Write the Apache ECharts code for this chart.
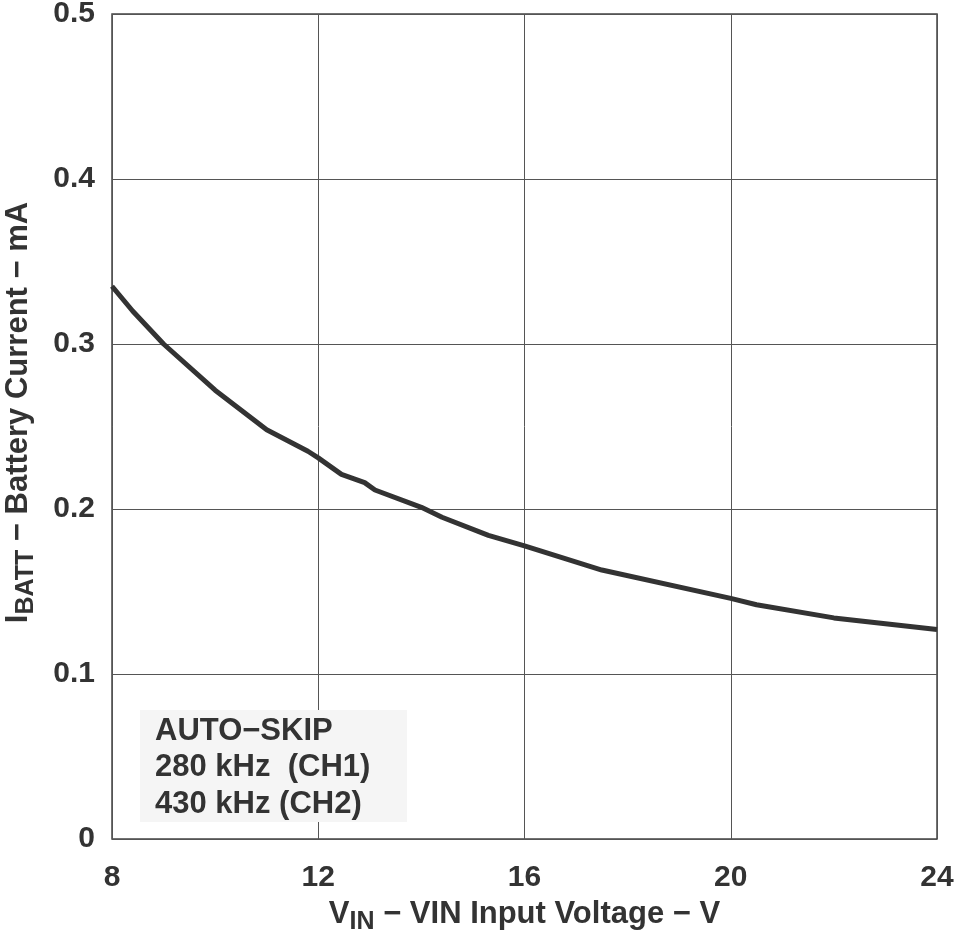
<!DOCTYPE html>
<html>
<head>
<meta charset="utf-8">
<script src="https://cdn.jsdelivr.net/npm/echarts@6/dist/echarts.min.js"></script>
<style>
  html, body { margin: 0; padding: 0; background: #fff; }
  #chart { width: 956px; height: 934px; }
</style>
</head>
<body>
<div id="chart"></div>
<script>
// input voltage (V)
var vin = [8, 8.4, 9, 10, 11, 11.8, 12, 12.45, 12.9, 13.1, 14, 14.4, 15.3, 16, 17.5, 20, 20.5, 22, 24];
// battery current (mA)
var ibatt = [0.335, 0.32, 0.3, 0.272, 0.248, 0.235, 0.231, 0.221, 0.216, 0.2115, 0.201, 0.195, 0.184, 0.1776, 0.163, 0.1458, 0.142, 0.134, 0.127];

var xTicks = [8, 12, 16, 20, 24];
var yTicks = [0, 0.1, 0.2, 0.3, 0.4, 0.5];
var noteLines = ["AUTO\u2212SKIP", "280 kHz  (CH1)", "430 kHz (CH2)"];

var textColor = "#333";
var fontFamily = "'Liberation Sans', Arial, sans-serif";

var chart = echarts.init(document.getElementById("chart"));

var points = vin.map(function (v, i) {
  return [v, ibatt[i]];
});

var titleRich = {
  a: { color: textColor, fontFamily: fontFamily, fontWeight: "bold", fontSize: 31 },
  sub: {
    color: textColor,
    fontFamily: fontFamily,
    fontWeight: "bold",
    fontSize: 25,
    padding: [16, 0, 0, 0],
  },
};

var options = {
  animation: false,
  grid: {
    left: 112,
    right: 19,
    top: 14,
    bottom: 95,
    outerBoundsMode: "none",
    containLabel: false,
    show: true,
    borderColor: "#444",
    borderWidth: 1.5,
  },
  xAxis: {
    type: "value",
    min: xTicks[0],
    max: xTicks[xTicks.length - 1],
    interval: 4,
    axisLine: { show: false },
    axisTick: { show: false },
    splitLine: { lineStyle: { color: "#555", width: 1 } },
    axisLabel: {
      color: textColor,
      fontFamily: fontFamily,
      fontWeight: "bold",
      fontSize: 30,
      margin: 24,
    },
    name: "{a|V}{sub|IN}{a| \u2212 VIN Input Voltage \u2212 V}",
    nameLocation: "middle",
    nameGap: 55,
    nameTextStyle: { rich: titleRich },
  },
  yAxis: {
    type: "value",
    min: yTicks[0],
    max: yTicks[yTicks.length - 1],
    interval: 0.1,
    axisLine: { show: false },
    axisTick: { show: false },
    splitLine: { lineStyle: { color: "#555", width: 1 } },
    axisLabel: {
      color: textColor,
      fontFamily: fontFamily,
      fontWeight: "bold",
      fontSize: 30,
      margin: 17,
      formatter: function (v) {
        return v === 0 ? "0" : v.toFixed(1);
      },
    },
    name: "{a|I}{sub|BATT}{a| \u2212 Battery Current \u2212 mA}",
    nameLocation: "middle",
    nameRotate: 90,
    nameGap: 73,
    nameTextStyle: { rich: titleRich, padding: [0, 0, 0, 28] },
  },
  graphic: [
    {
      type: "rect",
      shape: { x: 140, y: 710, width: 267, height: 112 },
      style: { fill: "#f5f5f5" },
      z: 10,
    },
    {
      type: "text",
      left: 155,
      top: 713,
      z: 11,
      style: {
        text: noteLines.join("\n"),
        fill: textColor,
        font: "bold 31px " + fontFamily,
        lineHeight: 36.5,
      },
    },
  ],
  series: [
    {
      type: "line",
      data: points,
      showSymbol: false,
      smooth: false,
      lineStyle: { color: "#333", width: 5 },
      z: 5,
    },
  ],
};

chart.setOption(options);
window.addEventListener("resize", function () {
  chart.resize();
});
</script>
</body>
</html>
